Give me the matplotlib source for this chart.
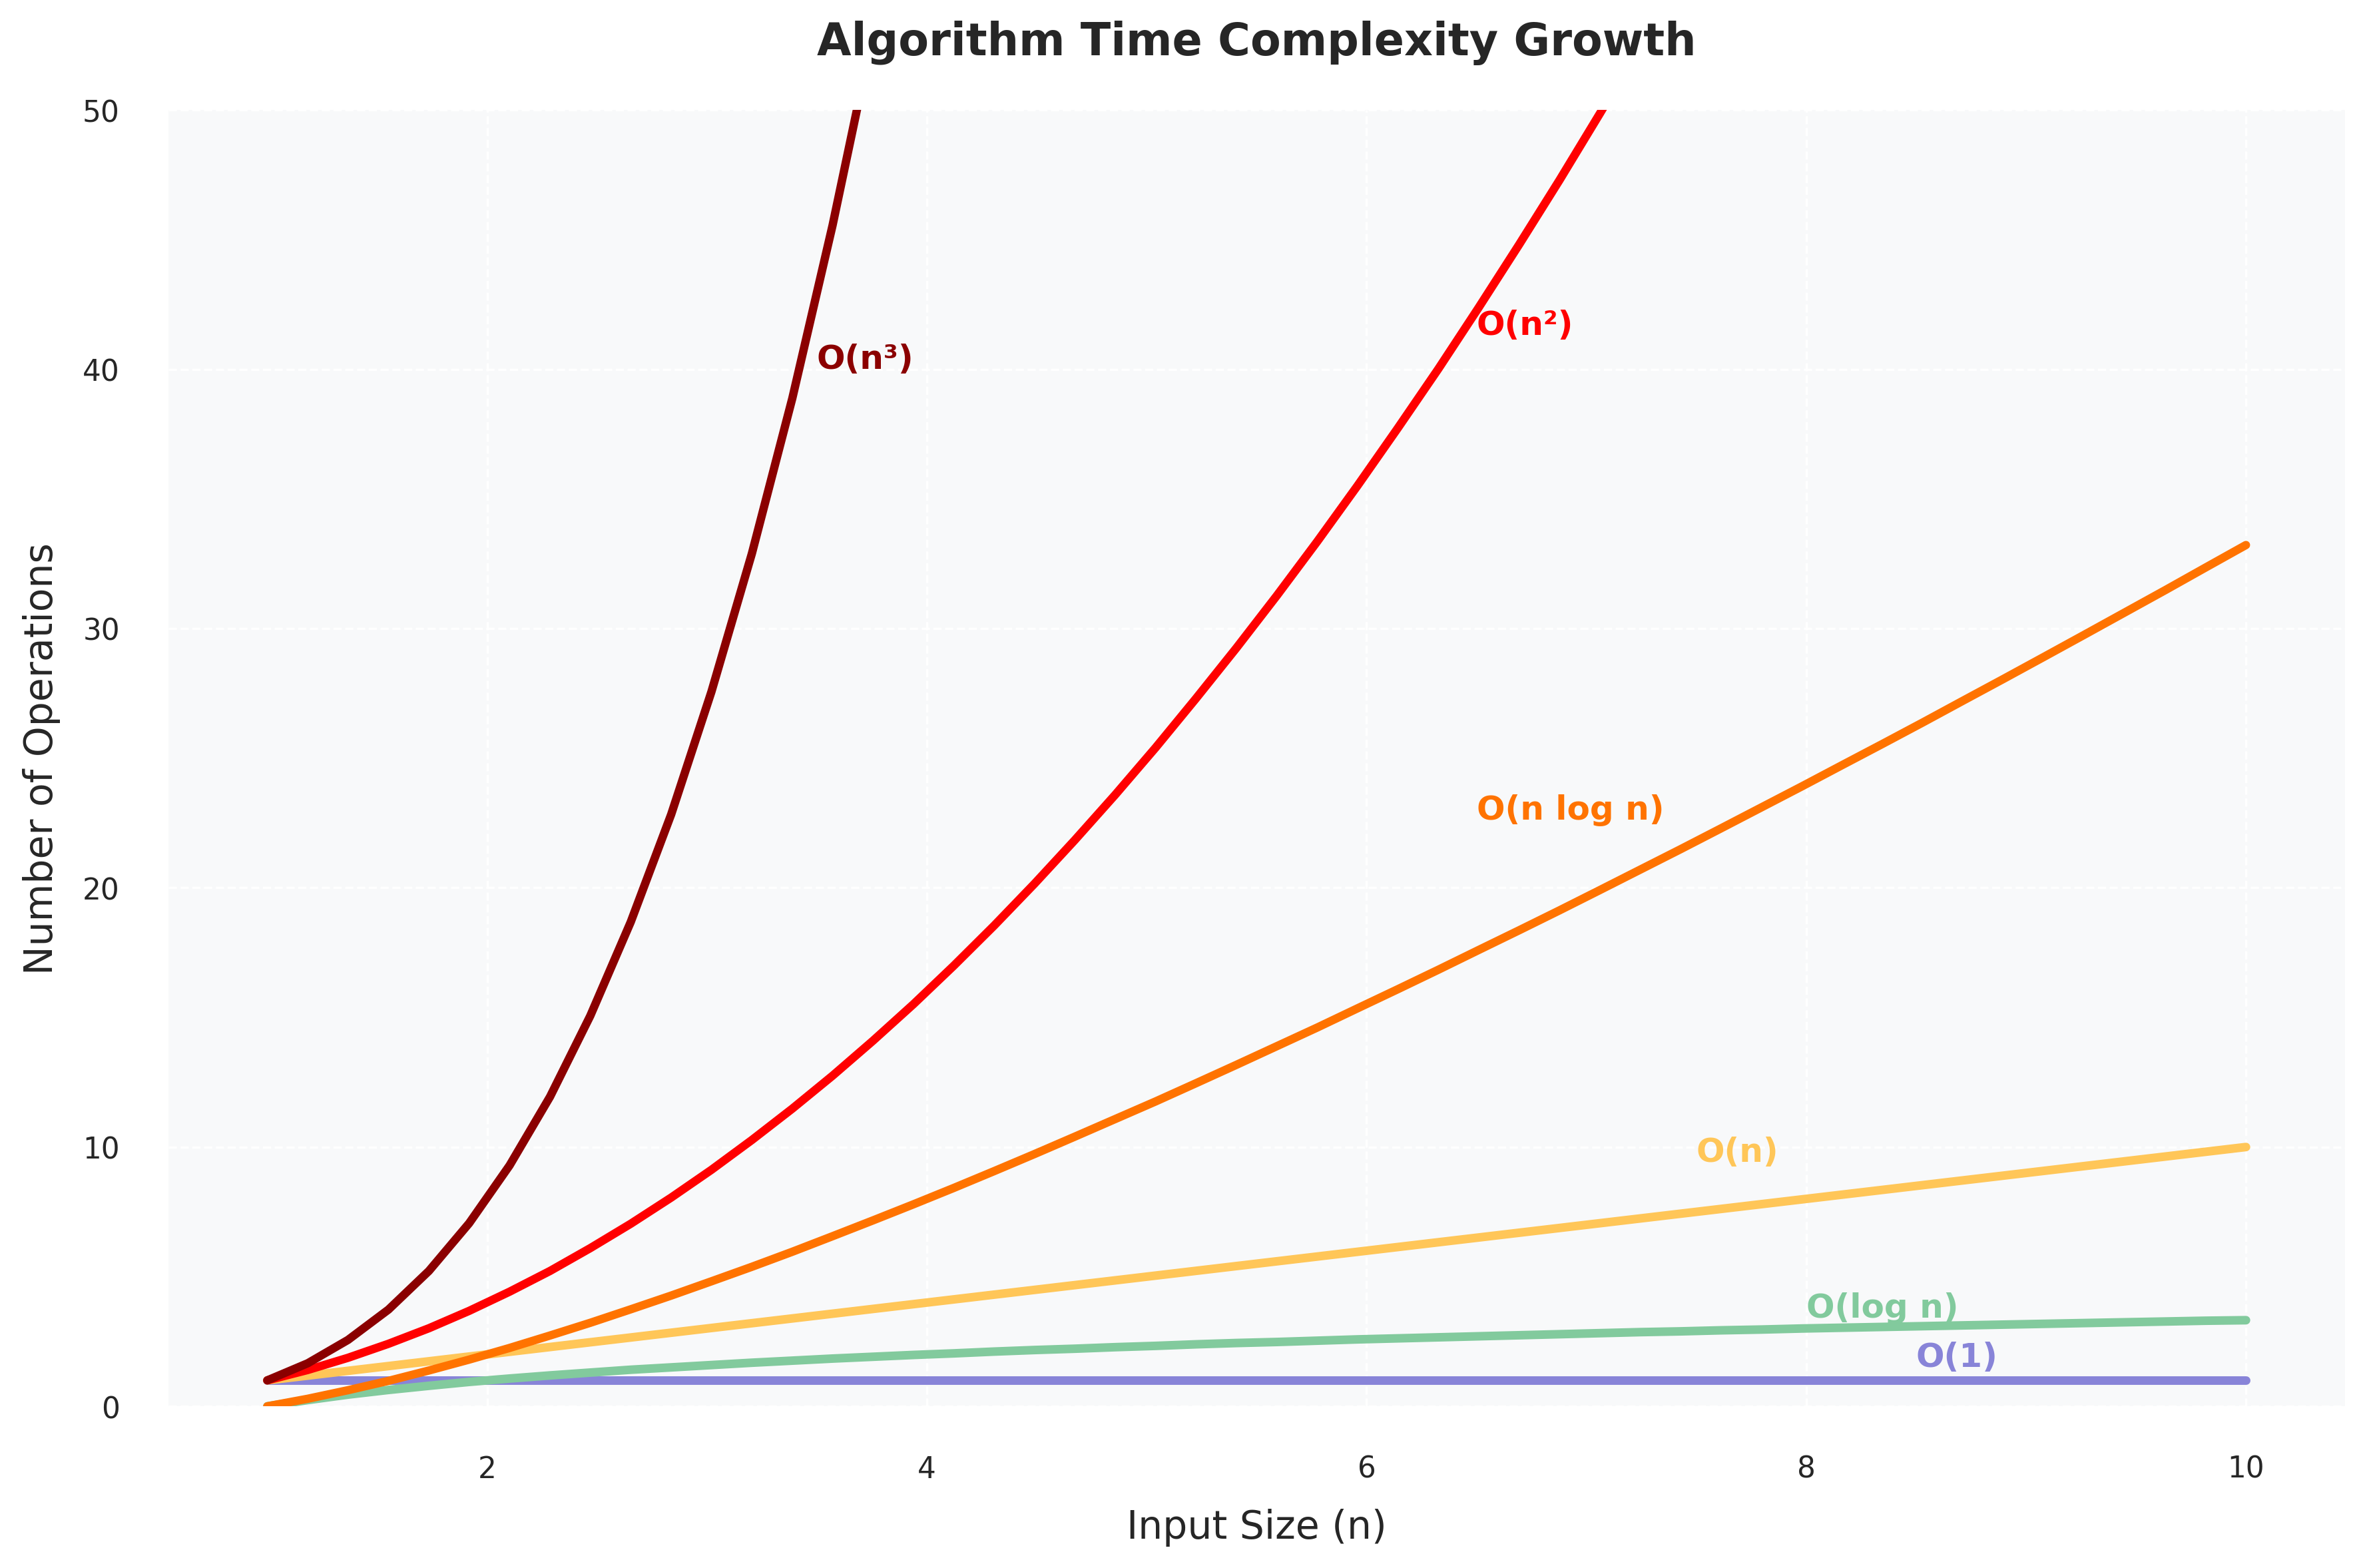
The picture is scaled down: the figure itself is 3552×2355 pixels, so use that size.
import matplotlib
matplotlib.use('Agg')
import matplotlib.pyplot as plt

plt.rcParams['font.family'] = ['DejaVu Sans']
plt.rcParams['text.color'] = '#262626'
plt.rcParams['axes.labelcolor'] = '#262626'
plt.rcParams['xtick.color'] = '#262626'
plt.rcParams['ytick.color'] = '#262626'

# input sizes (50 samples between 1 and 10)
n_vals = [1.000, 1.184, 1.367, 1.551, 1.735, 1.918, 2.102, 2.286, 2.469, 2.653,
          2.837, 3.020, 3.204, 3.388, 3.571, 3.755, 3.939, 4.122, 4.306, 4.490,
          4.673, 4.857, 5.041, 5.224, 5.408, 5.592, 5.776, 5.959, 6.143, 6.327,
          6.510, 6.694, 6.878, 7.061, 7.245, 7.429, 7.612, 7.796, 7.980, 8.163,
          8.347, 8.531, 8.714, 8.898, 9.082, 9.265, 9.449, 9.633, 9.816, 10.000]

o_1 = [1.0] * 50
o_logn = [0.00, 0.24, 0.45, 0.63, 0.79, 0.94, 1.07, 1.19, 1.30, 1.41,
          1.50, 1.59, 1.68, 1.76, 1.84, 1.91, 1.98, 2.04, 2.11, 2.17,
          2.22, 2.28, 2.33, 2.39, 2.44, 2.48, 2.53, 2.58, 2.62, 2.66,
          2.70, 2.74, 2.78, 2.82, 2.86, 2.89, 2.93, 2.96, 3.00, 3.03,
          3.06, 3.09, 3.12, 3.15, 3.18, 3.21, 3.24, 3.27, 3.30, 3.32]
o_n = [1.000, 1.184, 1.367, 1.551, 1.735, 1.918, 2.102, 2.286, 2.469, 2.653,
       2.837, 3.020, 3.204, 3.388, 3.571, 3.755, 3.939, 4.122, 4.306, 4.490,
       4.673, 4.857, 5.041, 5.224, 5.408, 5.592, 5.776, 5.959, 6.143, 6.327,
       6.510, 6.694, 6.878, 7.061, 7.245, 7.429, 7.612, 7.796, 7.980, 8.163,
       8.347, 8.531, 8.714, 8.898, 9.082, 9.265, 9.449, 9.633, 9.816, 10.000]
o_nlogn = [0.00, 0.29, 0.62, 0.98, 1.38, 1.80, 2.25, 2.73, 3.22, 3.74,
           4.27, 4.82, 5.38, 5.96, 6.56, 7.17, 7.79, 8.42, 9.07, 9.73,
           10.40, 11.08, 11.76, 12.46, 13.17, 13.89, 14.61, 15.35, 16.09, 16.84,
           17.60, 18.36, 19.13, 19.91, 20.70, 21.49, 22.29, 23.10, 23.91, 24.73,
           25.55, 26.38, 27.22, 28.06, 28.91, 29.76, 30.62, 31.48, 32.35, 33.22]
# only the part below the top of the axes is visible
o_n2 = [1.00, 1.40, 1.87, 2.41, 3.01, 3.68, 4.42, 5.22, 6.10, 7.04,
        8.05, 9.12, 10.27, 11.48, 12.75, 14.10, 15.51, 16.99, 18.54, 20.16,
        21.84, 23.59, 25.41, 27.30, 29.25, 31.27, 33.36, 35.51, 37.74, 40.02,
        42.38, 44.81, 47.30, 49.86, 52.49, 55.18]
o_n3 = [1.00, 1.66, 2.56, 3.73, 5.22, 7.06, 9.29, 11.94, 15.06, 18.68,
        22.83, 27.56, 32.89, 38.88, 45.55, 52.95]

labels = ['O(1)', 'O(log n)', 'O(n)', 'O(n log n)', 'O(n²)', 'O(n³)']
colors = ['#8884d8', '#82ca9d', '#ffc658', '#ff7300', '#ff0000', '#8b0000']
series = [o_1, o_logn, o_n, o_nlogn, o_n2, o_n3]
widths = [3.1, 3.1, 3.1, 3, 3, 3]
label_pos = [(8.5, 1.9), (8.0, 3.8), (7.5, 9.8), (6.5, 23.0), (6.5, 41.7), (3.5, 40.4)]

fig = plt.figure(figsize=(11.84, 7.853), dpi=300)
ax = fig.add_axes([0.0712, 0.1031, 0.9203, 0.8264])
ax.set_facecolor('#f8f9fa')

for ys, c, w in zip(series, colors, widths):
    ax.plot(n_vals[:len(ys)], ys, color=c, lw=w, solid_capstyle='round')

for lab, c, (px, py) in zip(labels, colors, label_pos):
    ax.text(px, py, lab, color=c, fontsize=12, fontweight='bold', va='center', ha='left')

ax.set_ylim(0, 50)
ax.set_xlim(0.55, 10.45)
ax.set_xticks([2, 4, 6, 8, 10])
ax.set_yticks([0, 10, 20, 30, 40, 50])
ax.grid(True, color='white', linestyle='--', linewidth=0.8)
ax.set_axisbelow(True)
for s in ax.spines.values():
    s.set_visible(False)
ax.tick_params(length=0, pad=17.5, labelsize=10.5)

ax.set_title('Algorithm Time Complexity Growth', fontsize=16, fontweight='bold', pad=20)
ax.set_xlabel('Input Size (n)', fontsize=14, labelpad=9)
ax.set_ylabel('Number of Operations', fontsize=14, labelpad=8)

fig.savefig('out.png', dpi=300, facecolor='white')
